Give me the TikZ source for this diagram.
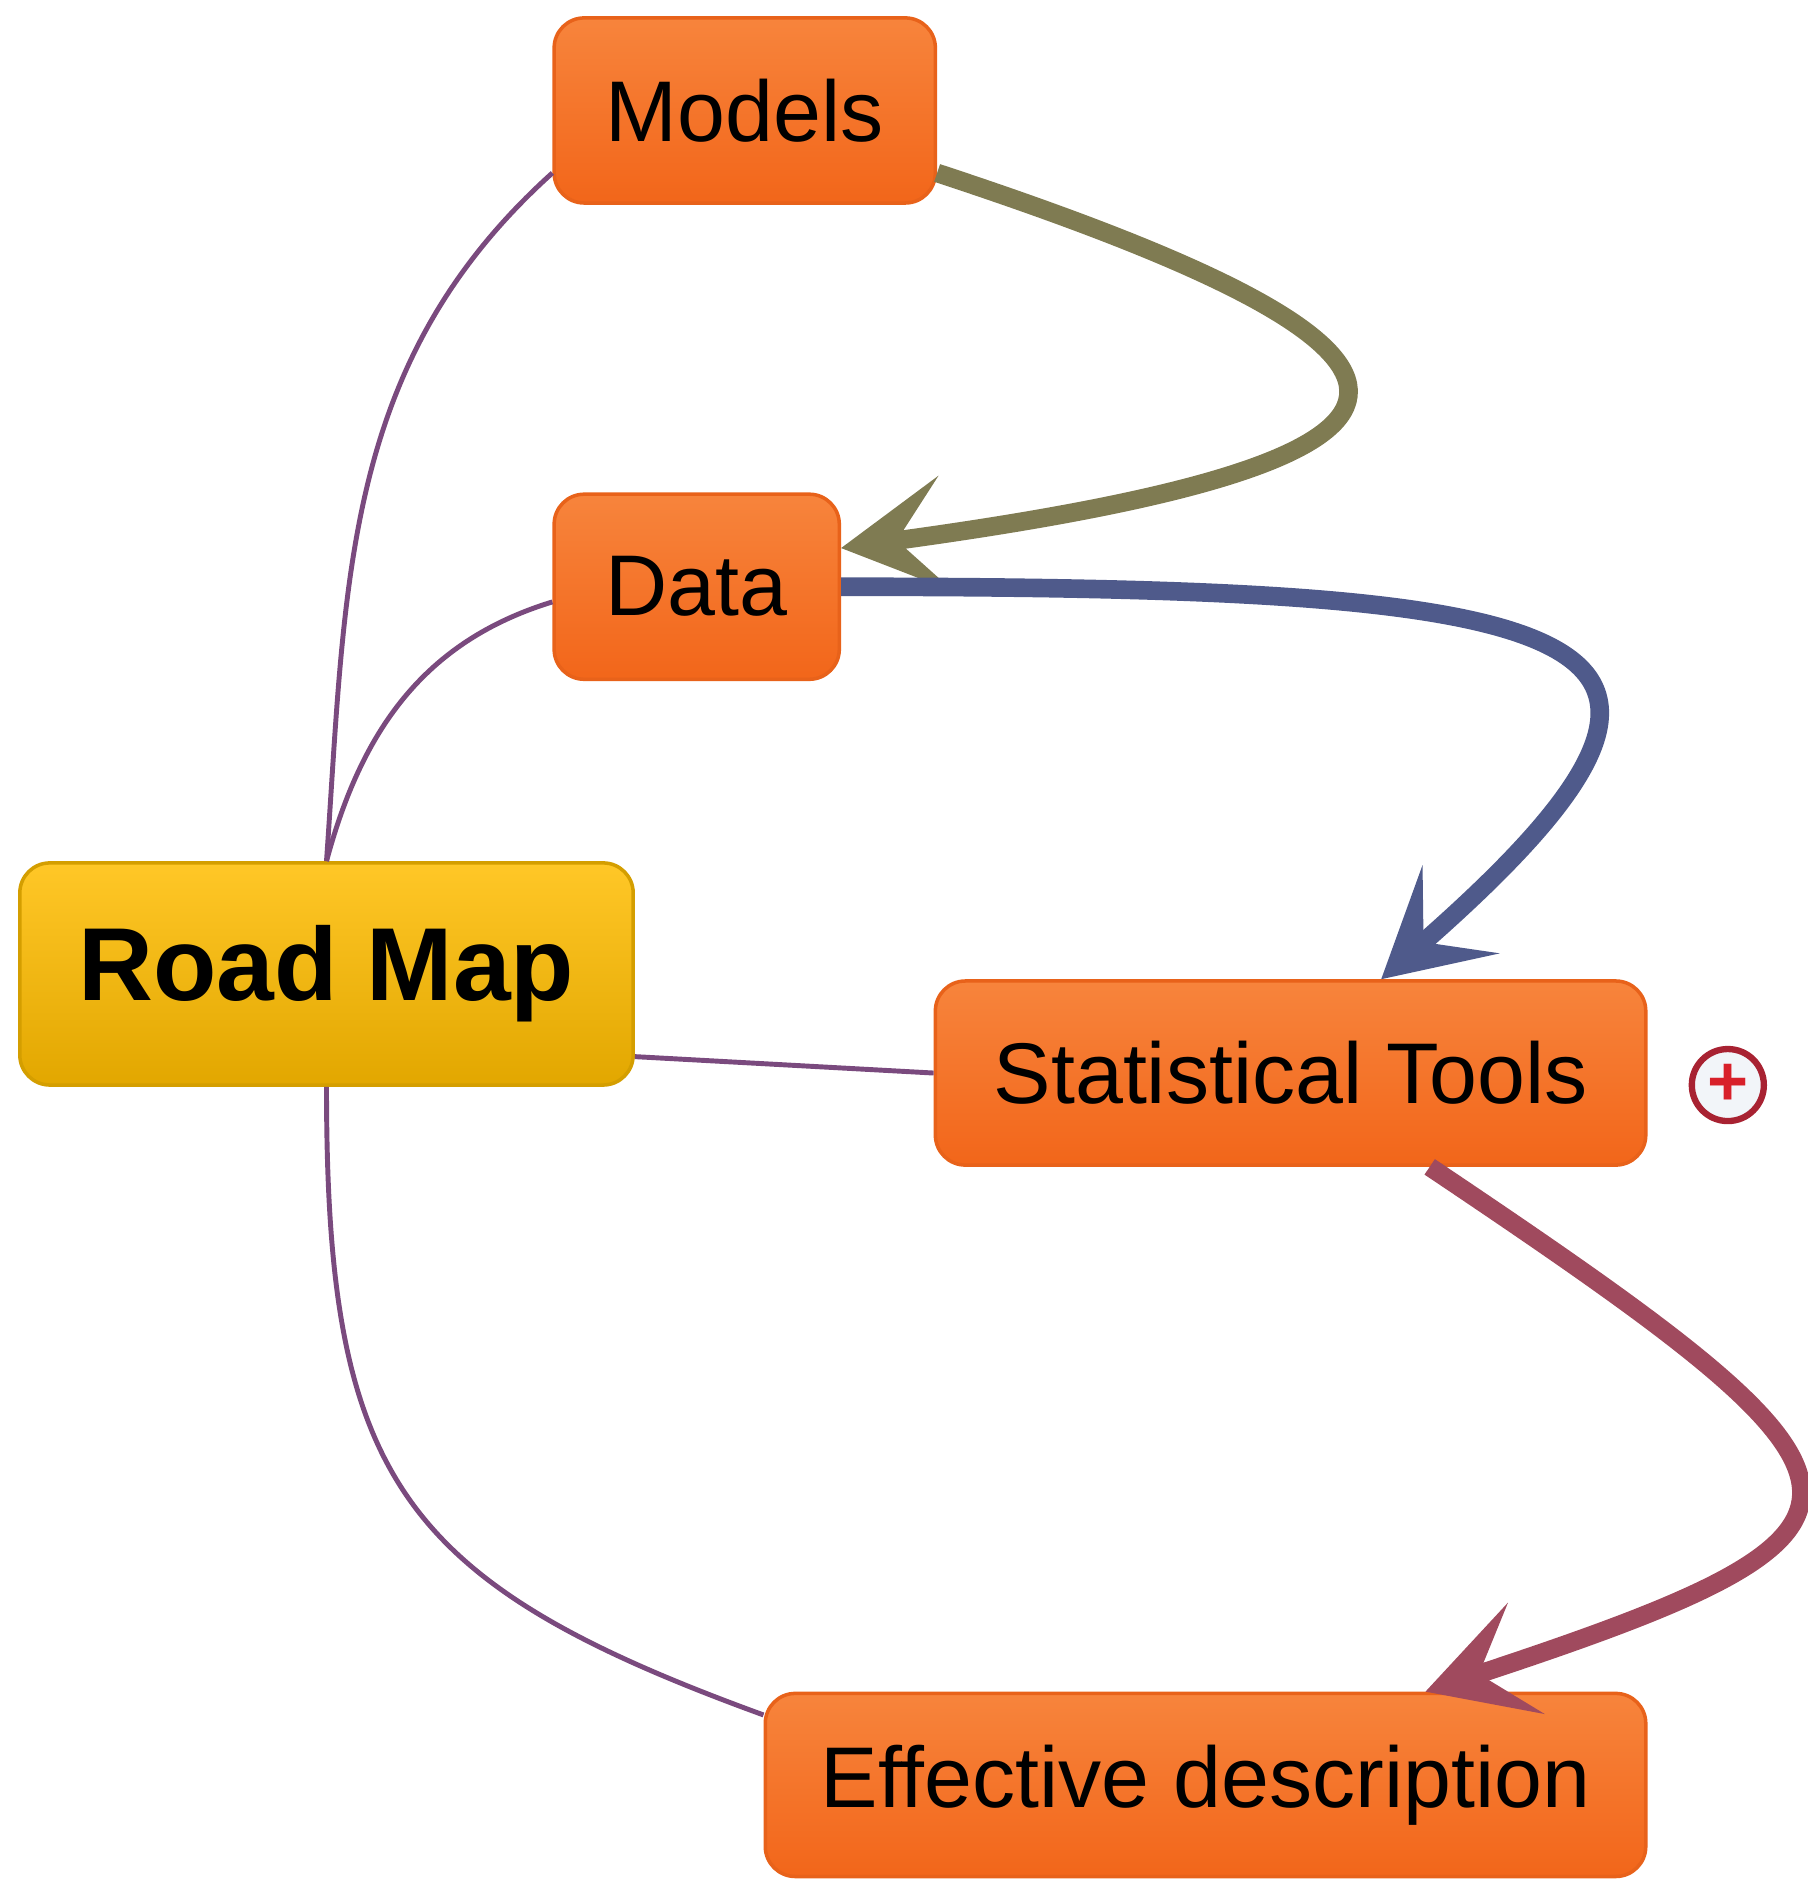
\documentclass[tikz,border=0pt]{standalone}
\usepackage{fontspec}
\setmainfont{Liberation Sans}
\usetikzlibrary{positioning, arrows.meta}

\definecolor{topicTop}{HTML}{F7843C}
\definecolor{topicBot}{HTML}{F2661A}
\definecolor{topicEdge}{HTML}{E8621A}
\definecolor{rootTop}{HTML}{FFC727}
\definecolor{rootBot}{HTML}{E2A700}
\definecolor{rootEdge}{HTML}{D49E00}
\definecolor{branchCol}{HTML}{7A4A7E}
\definecolor{linkOlive}{HTML}{7F7B52}
\definecolor{linkBlue}{HTML}{4F5A8B}
\definecolor{linkRed}{HTML}{A04A5E}
\definecolor{plusRing}{HTML}{A82232}
\definecolor{plusFill}{HTML}{F2F5F9}
\definecolor{plusRed}{HTML}{D8202A}

\tikzset{
  topic/.style={rectangle, rounded corners=0.3cm, draw=topicEdge, line width=1pt,
    top color=topicTop, bottom color=topicBot, minimum height=1.85cm,
    font=\fontsize{24.5}{29}\selectfont, text=black},
  root/.style={rectangle, rounded corners=0.3cm, draw=rootEdge, line width=1pt,
    top color=rootTop, bottom color=rootBot, minimum height=2.22cm,
    font=\fontsize{29.5}{34}\selectfont\bfseries, text=black},
  branch/.style={draw=branchCol, line width=1.4pt},
  link/.style={line width=5.3pt, -{Stealth[length=30pt,width=33pt,inset=14pt]}},
  expander/.style={circle, draw=plusRing, line width=1.8pt, fill=plusFill,
    minimum size=0.72cm, inner sep=0pt, text=plusRed,
    font=\fontsize{20}{20}\selectfont\bfseries}
}

\begin{document}
\begin{tikzpicture}[x=0.01cm, y=0.01cm, on grid]
	\useasboundingbox (0,0) rectangle (1807,1880);

	\node[root, minimum width=6.13cm]	(road)						at (326.5,906)						{Road Map};
	\node[topic, minimum width=3.81cm]	(models)	[above right=8.63cm and 4.18cm of road]		{Models};
	\node[topic, minimum width=2.85cm]	(data)		[above right=3.87cm and 3.70cm of road]		{Data};
	\node[topic, minimum width=7.10cm, minimum height=1.84cm]	(stat)	[below right=0.99cm and 9.635cm of road]	{Statistical Tools};
	\node[topic, minimum width=8.80cm, minimum height=1.83cm]	(eff)	[below right=8.105cm and 8.785cm of road]	{Effective description};
	\node[expander]						(plus)		[below right=0.12cm and 4.37cm of stat]		{+};

	% branches from the root
	\path[branch]
		(road.north)	edge[out=86, in=222]				(models.198)
		(road.north)	edge[out=75, in=197]				(data.186)
		(road.-15)		edge								(stat.west)
		(road.south)	edge[out=-90, in=160, looseness=1.3] (eff.171)
		;

	% relations
	\draw[link, linkOlive]	(models.-18) .. controls +(559,-184) and +(649,88) .. (data.15);
	\draw[link, linkBlue]	(data.east) .. controls +(761,0) and +(401,351) .. (stat.46);
	\draw[link, linkRed]	(stat.-34) .. controls +(480,-322) and +(500,165) .. (eff.23);
\end{tikzpicture}
\end{document}
